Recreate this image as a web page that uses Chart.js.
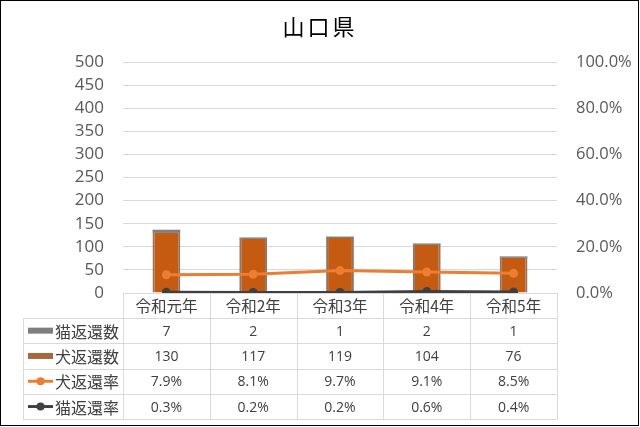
<!DOCTYPE html>
<html><head><meta charset="utf-8">
<script src="https://cdn.jsdelivr.net/npm/chart.js@4"></script>
<style>html,body{margin:0;padding:0;background:#fff}#wrap{width:640px;height:427px}</style>
</head><body><div id="wrap"><canvas id="c" width="640" height="427"></canvas></div>
<script>
const title = '山口県';
const categories = ['令和元年', '令和2年', '令和3年', '令和4年', '令和5年'];
const catReturned = [7, 2, 1, 2, 1];
const dogReturned = [130, 117, 119, 104, 76];
const dogRate = [7.9, 8.1, 9.7, 9.1, 8.5];
const catRate = [0.3, 0.2, 0.2, 0.6, 0.4];
const seriesNames = ['猫返還数', '犬返還数', '犬返還率', '猫返還率'];

const AXIS_FONT = "'Open Sans', 'Noto Sans CJK JP', sans-serif";
const NUM_FONT = "'Open Sans', 'Noto Sans CJK JP', sans-serif";
const JP_FONT = "'Noto Sans CJK JP', 'Open Sans', sans-serif";
const GRID = '#D9D9D9';

const tablePlugin = {
  id: 'tablePlugin',
  beforeDraw(chart) {
    const ctx = chart.ctx;
    ctx.save();
    ctx.fillStyle = '#fff';
    ctx.fillRect(0, 0, chart.width, chart.height);
    ctx.restore();
  },
  afterDraw(chart) {
    const ctx = chart.ctx;
    const area = chart.chartArea;
    const x = chart.scales.x;
    const n = categories.length;
    const colW = (area.right - area.left) / n;
    const top = area.bottom;
    const headH = 25;
    const rowH = 25.3;
    const legLeft = 23;
    ctx.save();
    // title
    ctx.fillStyle = '#000';
    ctx.font = "22px " + JP_FONT;
    ctx.textAlign = 'center';
    ctx.textBaseline = 'middle';
    ctx.letterSpacing = '3px';
    ctx.fillText(title, 320, 27);
    ctx.letterSpacing = '0px';
    // grid lines of table
    ctx.strokeStyle = GRID;
    ctx.lineWidth = 1;
    const rowsBottom = top + headH + rowH * 4;
    ctx.beginPath();
    ctx.moveTo(area.left, top + 0.5); ctx.lineTo(area.right, top + 0.5);
    for (let r = 0; r <= 4; r++) {
      const y = Math.round(top + headH + r * rowH) + 0.5;
      ctx.moveTo(legLeft, y); ctx.lineTo(area.right, y);
    }
    for (let c = 0; c <= n; c++) {
      const xx = Math.round(area.left + c * colW) + 0.5;
      ctx.moveTo(xx, top); ctx.lineTo(xx, rowsBottom);
    }
    ctx.moveTo(legLeft + 0.5, top + headH); ctx.lineTo(legLeft + 0.5, rowsBottom);
    ctx.stroke();
    // header
    ctx.fillStyle = '#404040';
    ctx.textAlign = 'center';
    ctx.textBaseline = 'middle';
    categories.forEach((c, i) => {
      ctx.font = "15.5px " + JP_FONT;
      ctx.fillText(c, x.getPixelForValue(i), top + headH / 2 + 1);
    });
    // rows
    const rows = [
      catReturned.map(v => String(v)),
      dogReturned.map(v => String(v)),
      dogRate.map(v => v.toFixed(1) + '%'),
      catRate.map(v => v.toFixed(1) + '%')
    ];
    rows.forEach((vals, r) => {
      const cy = top + headH + r * rowH + rowH / 2;
      ctx.font = "14px " + NUM_FONT;
      ctx.fillStyle = '#404040';
      ctx.textAlign = 'center';
      vals.forEach((v, i) => ctx.fillText(v, x.getPixelForValue(i), cy + 1));
      // legend
      ctx.font = "16px " + JP_FONT;
      ctx.textAlign = 'left';
      ctx.fillText(seriesNames[r], 55, cy + 1);
      const sx = 28, sw = 25;
      if (r === 0) { ctx.fillStyle = '#7F7F7F'; ctx.fillRect(sx, cy - 3, sw, 6); }
      if (r === 1) { ctx.fillStyle = '#A8683F'; ctx.fillRect(sx, cy - 3, sw, 6); }
      if (r === 2 || r === 3) {
        const col = r === 2 ? '#ED7D31' : '#404040';
        ctx.strokeStyle = col; ctx.lineWidth = 3;
        ctx.beginPath(); ctx.moveTo(sx, cy); ctx.lineTo(sx + sw, cy); ctx.stroke();
        ctx.fillStyle = col;
        ctx.beginPath(); ctx.arc(sx + sw / 2, cy, 4, 0, Math.PI * 2); ctx.fill();
      }
    });
    // outer border
    ctx.strokeStyle = '#000';
    ctx.lineWidth = 1;
    ctx.strokeRect(0.5, 0.5, chart.width - 2, chart.height - 2);
    ctx.restore();
  }
};

new Chart(document.getElementById('c'), {
  data: {
    labels: categories,
    datasets: [
      { type: 'line', label: seriesNames[2], data: dogRate, yAxisID: 'y1', order: 0,
        borderColor: '#ED7D31', backgroundColor: '#ED7D31', borderWidth: 3,
        pointRadius: 4.5, pointHoverRadius: 4.5, pointBackgroundColor: '#ED7D31', pointBorderWidth: 0, tension: 0 },
      { type: 'line', label: seriesNames[3], data: catRate, yAxisID: 'y1', order: 0,
        borderColor: '#404040', backgroundColor: '#404040', borderWidth: 3,
        pointRadius: 4.5, pointHoverRadius: 4.5, pointBackgroundColor: '#404040', pointBorderWidth: 0, tension: 0 },
      { type: 'bar', label: seriesNames[1], data: dogReturned, yAxisID: 'y', stack: 's', order: 1,
        backgroundColor: '#C55A11', borderColor: '#8C7468', borderWidth: {left: 2, right: 2, top: 0, bottom: 0},
        categoryPercentage: 0.8, barPercentage: 0.4 },
      { type: 'bar', label: seriesNames[0], data: catReturned, yAxisID: 'y', stack: 's', order: 1,
        backgroundColor: '#7F7F7F', borderWidth: 0, minBarLength: 1.5,
        categoryPercentage: 0.8, barPercentage: 0.4 }
    ]
  },
  options: {
    responsive: false,
    animation: false,
    events: [],
    layout: { padding: { top: 62, bottom: 134, left: 0, right: 0 } },
    plugins: { legend: { display: false }, title: { display: false }, tooltip: { enabled: false } },
    scales: {
      x: { display: false, stacked: true, offset: true },
      y: {
        position: 'left', stacked: true, min: 0, max: 500,
        ticks: { stepSize: 50, autoSkip: false, padding: 19, color: '#595959', font: { family: AXIS_FONT, size: 17, lineHeight: 1 } },
        grid: { color: GRID, drawTicks: false },
        border: { display: false },
        afterFit(s) { s.width = 123; }
      },
      y1: {
        position: 'right', min: 0, max: 100,
        ticks: { stepSize: 20, autoSkip: false, padding: 19, color: '#595959', font: { family: AXIS_FONT, size: 16.5, lineHeight: 1 },
          callback: v => v.toFixed(1) + '%' },
        grid: { display: false, drawTicks: false },
        border: { display: false },
        afterFit(s) { s.width = 83; }
      }
    }
  },
  plugins: [tablePlugin]
});
</script></body></html>
